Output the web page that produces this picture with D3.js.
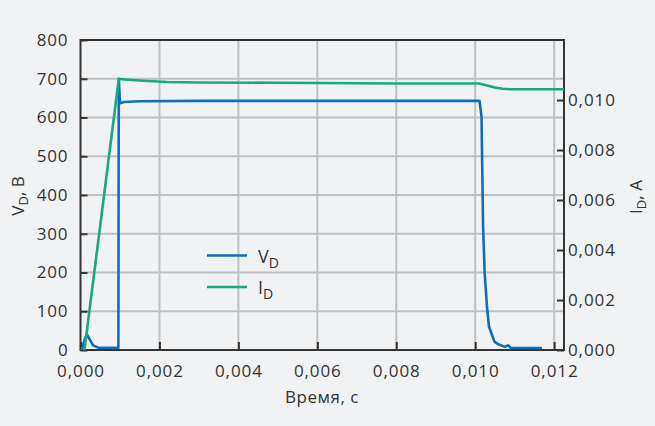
<!DOCTYPE html>
<html><head><meta charset="utf-8">
<script src="https://cdn.jsdelivr.net/npm/d3@7"></script>
<style>
html,body{margin:0;padding:0;background:#f1f2f4;}
svg text{font-family:"Open Sans","Noto Sans",sans-serif;fill:#333;}
</style></head>
<body>
<svg id="c" width="655" height="426"></svg>
<script>
// ---- data ----
const timeV = [0.00003, 0.00010, 0.00016, 0.00024, 0.00032, 0.00045, 0.00096, 0.00097, 0.00100, 0.00110, 0.0015, 0.0030, 0.0060, 0.0090, 0.01011, 0.01016, 0.01020, 0.01024, 0.01030, 0.01035, 0.01049, 0.01060, 0.01075, 0.01083, 0.01090, 0.01169];
const VD    = [0, 25, 40, 26, 12, 6, 6, 700, 637, 640, 642, 643, 643, 643, 643, 602, 318, 199, 110, 60, 21, 14, 8, 12, 6, 5];
const timeI = [0.00010, 0.00097, 0.0012, 0.0016, 0.0022, 0.0030, 0.0050, 0.0080, 0.0101, 0.0103, 0.0105, 0.0107, 0.0109, 0.01225];
const ID    = [0, 0.01084, 0.01081, 0.01077, 0.01072, 0.01070, 0.01069, 0.01066, 0.01066, 0.01058, 0.01050, 0.01045, 0.01043, 0.01043];
const xTicks = [0, 0.002, 0.004, 0.006, 0.008, 0.010, 0.012];
const yLTicks = [0, 100, 200, 300, 400, 500, 600, 700, 800];
const yRTicks = [0, 0.002, 0.004, 0.006, 0.008, 0.010];
const legendItems = [{name:"V", sub:"D", key:"v"}, {name:"I", sub:"D", key:"i"}];

const colors = {v:"#0b6fbf", i:"#16aa7d"};
const fmt = d => d3.format(".3f")(d).replace(".", ",");

const svg = d3.select("#c");
const L = 80.5, R = 564, T = 40, B = 350;
const x = d3.scaleLinear().domain([0, 0.01225]).range([L, R]);
const yL = d3.scaleLinear().domain([0, 800]).range([B, T]);
const yR = d3.scaleLinear().domain([0, 0.0124]).range([B, T]);

// grid
const g = svg.append("g");
g.selectAll(".gx").data(xTicks.slice(1)).join("line")
  .attr("x1", d => x(d)).attr("x2", d => x(d)).attr("y1", T).attr("y2", B)
  .attr("stroke", "#bfc0c2").attr("stroke-width", 2);
g.selectAll(".gy").data(yLTicks.slice(1, -1)).join("line")
  .attr("x1", L).attr("x2", R).attr("y1", d => yL(d)).attr("y2", d => yL(d))
  .attr("stroke", "#bfc0c2").attr("stroke-width", 2);

// axes
const axStyle = sel => {
  sel.select(".domain").remove();
  sel.selectAll(".tick line").attr("stroke", "#333").attr("stroke-width", 2);
  sel.selectAll(".tick text").style("font-size", "17px").style("letter-spacing", "0.9px").attr("fill", "#333");
};
svg.append("g").attr("transform", `translate(0,${B})`)
  .call(d3.axisBottom(x).tickValues(xTicks).tickFormat(fmt).tickSizeInner(-8).tickPadding(15))
  .call(axStyle);
svg.append("g").attr("transform", `translate(${L},0)`)
  .call(d3.axisLeft(yL).tickValues(yLTicks).tickSizeInner(-7).tickPadding(12))
  .call(axStyle);
svg.append("g").attr("transform", `translate(${R},0)`)
  .call(d3.axisRight(yR).tickValues(yRTicks).tickFormat(fmt).tickSizeInner(-7).tickPadding(4))
  .call(axStyle);

// frame
svg.append("rect").attr("x", L).attr("y", T).attr("width", R - L).attr("height", B - T)
  .attr("fill", "none").attr("stroke", "#333").attr("stroke-width", 2);

// lines
const lineV = d3.line().x((d, i) => x(timeV[i])).y(d => yL(d));
const lineI = d3.line().x((d, i) => x(timeI[i])).y(d => yR(d));
svg.append("path").attr("d", lineV(VD)).attr("fill", "none")
  .attr("stroke", colors.v).attr("stroke-width", 2.6).attr("stroke-linejoin", "round");
svg.append("path").attr("d", lineI(ID)).attr("fill", "none")
  .attr("stroke", colors.i).attr("stroke-width", 2.6).attr("stroke-linejoin", "round");

// legend
const lg = svg.append("g");
legendItems.forEach((it, k) => {
  const yy = 255.5 + k * 31.5;
  lg.append("line").attr("x1", 207).attr("x2", 247).attr("y1", yy).attr("y2", yy)
    .attr("stroke", colors[it.key]).attr("stroke-width", 2.6);
  const t = lg.append("text").attr("x", 258).attr("y", yy + 7).style("font-size", "18px");
  t.append("tspan").text(it.name);
  t.append("tspan").attr("dy", 5).style("font-size", "14px").text(it.sub);
});

// axis titles
svg.append("text").attr("text-anchor", "middle").attr("x", 322).attr("y", 403)
  .style("font-size", "17px").style("letter-spacing", "0.5px").text("Время, с");
const tl = svg.append("text").attr("text-anchor", "middle")
  .attr("transform", "translate(24,196) rotate(-90)").style("font-size", "17px");
tl.append("tspan").text("V");
tl.append("tspan").attr("dy", 4).style("font-size", "13px").text("D");
tl.append("tspan").attr("dy", -4).text(", В");
const tr = svg.append("text").attr("text-anchor", "middle")
  .attr("transform", "translate(642,197) rotate(-90)").style("font-size", "17px");
tr.append("tspan").text("I");
tr.append("tspan").attr("dy", 4).style("font-size", "13px").text("D");
tr.append("tspan").attr("dy", -4).text(", А");
</script>
</body></html>
